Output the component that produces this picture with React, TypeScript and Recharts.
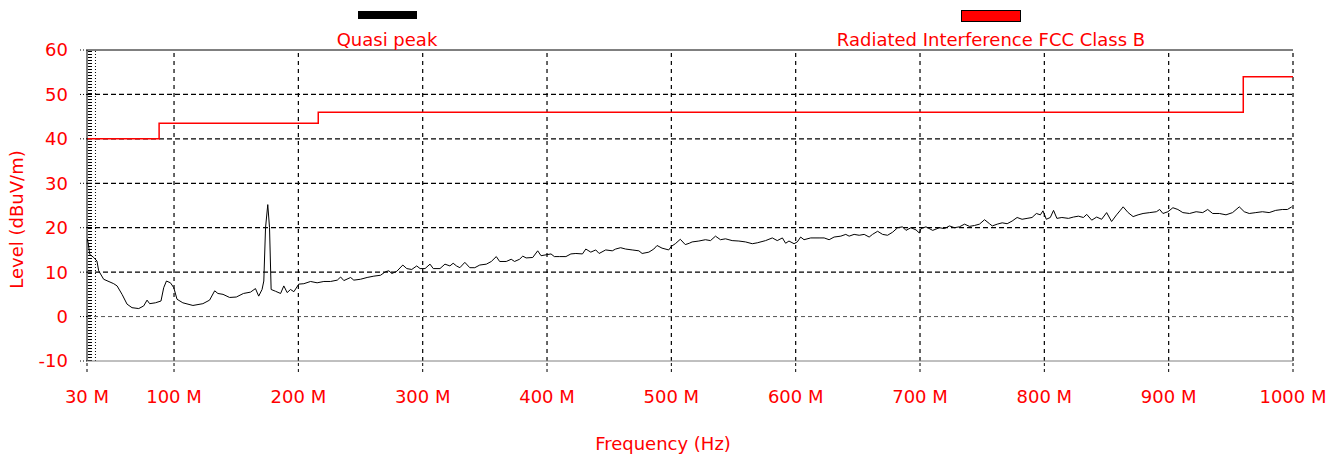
import React from 'react';
import { LineChart, Line, XAxis, YAxis, ReferenceLine, Label, Legend } from 'recharts';

// ---- data ----
const xTicks = [30, 100, 200, 300, 400, 500, 600, 700, 800, 900, 1000];
const yTicks = [-10, 0, 10, 20, 30, 40, 50, 60];
const yGridDark = [10, 20, 30, 40, 50];
const xGrid = [100, 200, 300, 400, 500, 600, 700, 800, 900, 1000];
const legendNames = ['Quasi peak', 'Radiated Interference FCC Class B'];
const seriesColors = ['#000000', '#ff0000'];

// FCC Class B limit (MHz, dBuV/m)
const limitFreqs = [30, 88, 216, 960, 1000];
const limitLevels = [40, 43.5, 46, 54, 54];

// Quasi peak trace (MHz)
const traceFreqs = [
  30.2, 31, 32.2, 35.4, 38, 39.4, 43.4, 51.5, 54.2, 58.2, 62.2, 66.2, 71.6, 75.6, 78.3, 80.4, 85, 89.5,
  91.7, 93.9, 97.1, 99.8, 102.4, 107.1, 115.2, 123.2, 128.6, 132.7, 135.3, 139.4, 144.7, 150.1, 155.8,
  161.5, 165.5, 168.1, 170.8, 172.2, 173.6, 175.4, 176.8, 178.1, 181.6, 185.7, 188.3, 191, 193.7, 196.4,
  200.3, 204.4, 209.8, 215.1, 220.5, 225.9, 231.3, 234, 236.6, 242, 244.6, 250, 255.3, 260.7, 266.1,
  270.1, 272.8,
  275.2, 279.2, 284, 287.2, 291.2, 295.2, 297.9, 301.9, 305.9, 308.5, 313.9, 317.9, 321.9, 324.5, 327.2,
  329.9, 333.9, 337.9, 341.9, 345.9, 351.2, 355.2, 359.2, 361.9, 367.2, 371.2, 373.9, 377.9, 380.5,
  383.2, 388.5, 392.5, 395.2, 399.2, 403.2, 405.9, 409.9, 415.2, 419.2, 423.2, 428.5, 431.2, 435.2,
  439.2, 441.9, 447.2, 452.5, 455.2, 459.2, 463.2, 468.5, 473.9, 476.5, 481.9, 485.9, 488.5, 492.5,
  497.9, 500, 503.2, 507.2, 511.2, 514.4,
  516.7, 522.1, 527.4, 531.5, 535.5, 539.5, 543.6, 548.9, 554.3, 559.7, 565.1, 569.1, 575.8, 581.2,
  585.2, 589.3, 591.9, 594.6, 598.7, 601.3, 604, 606.7, 612.1, 618.8, 622.9, 626.9, 630.9, 636.3, 640.3,
  643, 647, 651.1, 655.1, 659.1, 661.8, 665.9, 669.9, 673.9, 678, 682, 686, 688.7, 692.7, 696.8, 699.5,
  700.8, 704.8, 710.2, 715.6, 719.6, 723.7, 727.7, 731.7, 735.8, 739.8, 743.8, 747.8, 751.9, 755.9,
  758.1, 762.1, 766.1, 770.1, 774.1, 778.1, 782.1, 786.1, 790.1, 793.6, 796.8, 798.9, 801.6, 804.8,
  807.4, 810.1, 814.1, 819.4, 823.4, 827.4, 831.4, 834.1, 838.1, 842.1, 846.1, 850.1, 854.1, 858.1,
  860.8, 863.4, 867.4, 871.4, 875.4, 879.4, 884.8, 890.1, 892.8, 895.4, 899.4, 903.4, 907.4, 911.4,
  916.8, 922.1, 927.4, 931.4, 935.4, 940.8, 946.1, 951.4, 956.8, 960.8, 964.8, 970.1, 975.4, 980.8,
  986.1, 991.4, 995.5, 999,
];
const traceLevels = [
  17.5, 16.5, 14, 13.3, 12.5, 10.3, 8.4, 7.4, 6.9, 5, 2.8, 2, 1.8, 2.4, 3.7, 2.9, 3.1, 3.5,
  6.5, 8, 7.6, 6.5, 3.9, 3.1, 2.5, 2.9, 3.7, 5.8, 5.2, 5, 4.3, 4.4, 5.2,
  5.5, 6.3, 4.6, 6.1, 8, 20, 25.2, 20, 6.1, 5.7, 5.2, 6.9, 5.4, 6.1, 5.6,
  7.3, 7.4, 7.9, 7.6, 7.9, 7.9, 8.2, 8.9, 8.1, 8.8, 8.2, 8.4, 8.8, 9.1, 9.3,
  10.1, 10.3,
  9.7, 10.2, 11.6, 10.8, 10.6, 11.4, 10.8, 10.8, 11.8, 10.8, 10.8, 11.8, 11.4, 12, 11.4,
  11, 12.2, 11, 11, 11.6, 11.8, 12.4, 13.5, 12.4, 12.4, 12.9, 12.4, 12.9, 13.6,
  13.2, 13.3, 14.8, 13.7, 13.9, 14.1, 13.5, 13.5, 13.5, 14.1, 14.2, 14.1, 15.2, 14.5,
  15, 14.2, 15, 14.8, 15.2, 15.5, 15.2, 15, 14.8, 14.2, 14.5, 15.2, 16, 15.4,
  15, 15.8, 16.4, 17.4, 16.2, 16.5,
  16.8, 17, 17.3, 17.1, 18.1, 17.3, 17.5, 17.1, 17, 16.8, 16.4, 16.6, 17.1, 17.7,
  17.1, 17.7, 16.5, 17, 16.4, 16.8, 17.9, 17.3, 17.7, 17.7, 17.7, 17.3, 17.9, 18.1, 18.5,
  18.1, 18.5, 18.3, 18.5, 17.9, 18.5, 19.2, 18.5, 18.3, 19, 20, 20.2, 19.4, 20, 19.5, 18.8,
  19.8, 20.2, 19.4, 20, 19.8, 20.4, 20, 20.2, 20.8, 20.3, 20.5, 20.8, 21.8, 20.9,
  20.4, 20.8, 21.1, 20.9, 21.5, 22.3, 21.9, 22.1, 22.3, 23.2, 22.9, 23.8, 21.9, 22.3,
  23.9, 22.1, 22.3, 22.1, 22.4, 22.6, 22.3, 23, 21.7, 22.4, 21.9, 23.4, 21.4, 22.9,
  23.8, 24.7, 23.4, 22.5, 22.9, 23.2, 23.4, 23.6, 24.1, 23.2, 23.6, 24.5, 24.1, 23.4,
  23.2, 23.6, 23.4, 24.1, 23.2, 23.2, 22.9, 23.4, 24.7, 23.6, 23.2, 23.4, 23.6, 23.4,
  23.9, 24.1, 24.1, 24.7,
];

// markers on the left edge of the plot (MHz)
const edgeTickColumnFreq = 32.4;
const edgeDottedFreq = 36.8;

const traceData = traceFreqs.map((f, i) => ({ f, v: traceLevels[i] }));
const limitData = limitFreqs.map((f, i) => ({ f, v: limitLevels[i] }));

const FONT = 'DejaVu Sans';
const RED = '#ff0000';

const legendLayout = [
  { rectLeft: 358, rectTop: 11, rectW: 59, rectH: 8, border: 'none', center: 387 },
  { rectLeft: 961, rectTop: 10, rectW: 58, rectH: 10, border: '1px solid #000', center: 991 },
];

const renderLegend = () => (
  <div style={{ position: 'relative', width: 1343, height: 50 }}>
    {legendNames.map((name, i) => {
      const l = legendLayout[i];
      return (
        <React.Fragment key={name}>
          <div
            style={{
              position: 'absolute',
              left: l.rectLeft,
              top: l.rectTop,
              width: l.rectW,
              height: l.rectH,
              background: seriesColors[i],
              border: l.border,
            }}
          />
          <div
            style={{
              position: 'absolute',
              left: l.center - 250,
              width: 500,
              top: 29,
              textAlign: 'center',
              color: RED,
              fontFamily: FONT,
              fontSize: 18,
              lineHeight: '21px',
              whiteSpace: 'nowrap',
            }}
          >
            {name}
          </div>
        </React.Fragment>
      );
    })}
  </div>
);

export default function App() {
  return (
    <div style={{ position: 'absolute', left: 0, top: 0, width: 1343, height: 459, background: '#fff' }}>
      <LineChart width={1343} height={459} margin={{ top: 50, right: 50, bottom: 0, left: 27 }}>
        <XAxis
          dataKey="f"
          type="number"
          domain={[30, 1000]}
          ticks={xTicks}
          interval={0}
          allowDataOverflow
          height={98}
          tickFormatter={(v: number) => `${v} M`}
          tick={{ fill: RED, fontSize: 18, fontFamily: FONT }}
          tickSize={11}
          tickMargin={18}
          tickLine={{ stroke: '#000', strokeDasharray: '3 3' }}
          axisLine={{ stroke: '#808080' }}
        >
          <Label
            value="Frequency (Hz)"
            position="insideBottom"
            offset={9}
            dx={-27}
            fill={RED}
            fontSize={18}
            fontFamily={FONT}
          />
        </XAxis>
        <YAxis
          type="number"
          domain={[-10, 60]}
          ticks={yTicks}
          interval={0}
          allowDataOverflow
          width={60}
          tick={{ fill: RED, fontSize: 18, fontFamily: FONT }}
          tickSize={7}
          tickMargin={12}
          tickLine={{ stroke: '#000', strokeDasharray: '1 2' }}
          axisLine={{ stroke: '#000' }}
        >
          <Label
            value="Level (dBuV/m)"
            position="center"
            angle={-90}
            dx={-40}
            dy={14}
            fill={RED}
            fontSize={18}
            fontFamily={FONT}
          />
        </YAxis>
        {yGridDark.map((y) => (
          <ReferenceLine key={`hy${y}`} y={y} stroke="#000" strokeDasharray="5 3" strokeWidth={1.3} />
        ))}
        <ReferenceLine y={0} stroke="#555" strokeDasharray="4 3" strokeWidth={1} />
        <ReferenceLine y={60} stroke="#000" strokeWidth={1} />
        {xGrid.map((x) => (
          <ReferenceLine key={`vx${x}`} x={x} stroke="#000" strokeDasharray="4 4" strokeWidth={1.2} />
        ))}
        <ReferenceLine x={edgeTickColumnFreq} stroke="#000" strokeWidth={4} strokeDasharray="1 2" />
        <ReferenceLine x={edgeDottedFreq} stroke="#000" strokeWidth={1} strokeDasharray="1 2" />
        <Line
          data={limitData}
          dataKey="v"
          type="stepAfter"
          stroke={seriesColors[1]}
          strokeWidth={1.5}
          dot={false}
          isAnimationActive={false}
        />
        <Line
          data={traceData}
          dataKey="v"
          type="linear"
          stroke={seriesColors[0]}
          strokeWidth={1}
          dot={false}
          isAnimationActive={false}
        />
        <Legend
          verticalAlign="middle"
          align="center"
          layout="horizontal"
          wrapperStyle={{ top: 0, left: 0, width: 1343, height: 50 }}
          content={renderLegend}
        />
      </LineChart>
    </div>
  );
}
